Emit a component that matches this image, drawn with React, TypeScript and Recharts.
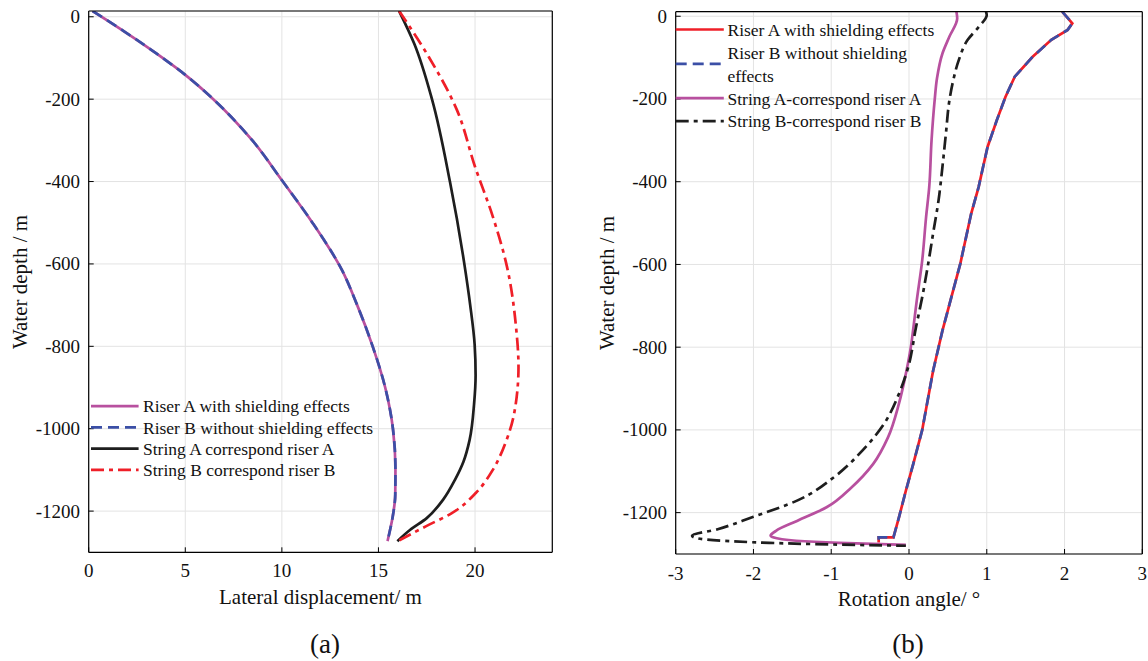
import React from "react";
import { LineChart, Line, XAxis, YAxis, CartesianGrid } from "recharts";

const FONT = '"Liberation Serif", "Times New Roman", Times, serif';

// ---------------- (a) Lateral displacement ----------------
const dispDepthTicks = [0, -200, -400, -600, -800, -1000, -1200];
const dispTicks = [0, 5, 10, 15, 20];

const riserDispDepth = [14, -36, -89, -141, -200, -299, -400, -501, -614, -700, -800, -900, -1000, -1100, -1160, -1213, -1246, -1273];
const riserADisp = [0.2, 1.85, 3.5, 5.0, 6.45, 8.45, 10.05, 11.6, 13.1, 13.9, 14.7, 15.35, 15.75, 15.88, 15.87, 15.74, 15.6, 15.47];
const riserBDisp = [0.2, 1.85, 3.5, 5.0, 6.45, 8.45, 10.05, 11.6, 13.1, 13.9, 14.7, 15.35, 15.75, 15.88, 15.87, 15.74, 15.6, 15.47];

const stringADispDepth = [14, -65, -200, -400, -598, -700, -796, -870, -940, -1027, -1080, -1124, -1172, -1217, -1246, -1273];
const stringADisp = [16.07, 16.85, 17.77, 18.7, 19.44, 19.75, 19.98, 20.03, 19.95, 19.72, 19.4, 18.96, 18.35, 17.5, 16.63, 15.98];

const stringBDispDepth = [14, -97, -226, -364, -485, -606, -752, -850, -962, -1035, -1100, -1156, -1205, -1237, -1273];
const stringBDisp = [16.07, 17.6, 19.06, 20.0, 20.92, 21.65, 22.12, 22.25, 22.03, 21.57, 20.92, 20.04, 18.8, 17.45, 16.0];

// ---------------- (b) Rotation angle ----------------
const rotDepthTicks = [0, -200, -400, -600, -800, -1000, -1200];
const rotTicks = [-3, -2, -1, 0, 1, 2, 3];

const riserRotDepth = [11, -17, -33, -57, -98, -146, -195, -251, -316, -413, -477, -598, -760, -857, -1000, -1082, -1147, -1212, -1260, -1260, -1272];
const riserARot = [1.97, 2.1, 2.04, 1.83, 1.59, 1.36, 1.24, 1.13, 1.01, 0.895, 0.8, 0.66, 0.43, 0.31, 0.17, 0.055, -0.04, -0.13, -0.2, -0.39, -0.39];
const riserBRot = [1.97, 2.1, 2.04, 1.83, 1.59, 1.36, 1.24, 1.13, 1.01, 0.895, 0.8, 0.66, 0.43, 0.31, 0.17, 0.055, -0.04, -0.13, -0.2, -0.39, -0.39];

const stringARotDepth = [11, -5, -49, -90, -150, -203, -300, -413, -485, -590, -687, -755, -792, -864, -937, -1018, -1082, -1139, -1187, -1220, -1244, -1256, -1262, -1268, -1273, -1278];
const stringARot = [0.61, 0.62, 0.52, 0.43, 0.36, 0.33, 0.29, 0.26, 0.22, 0.17, 0.1, 0.055, 0.03, -0.04, -0.13, -0.27, -0.46, -0.74, -1.06, -1.44, -1.71, -1.78, -1.7, -1.45, -0.9, -0.04];

const stringBRotDepth = [11, 3, -25, -57, -106, -154, -203, -283, -364, -445, -525, -606, -679, -752, -848, -913, -985, -1050, -1115, -1171, -1210, -1240, -1256, -1262, -1268, -1273, -1277, -1280];
const stringBRot = [0.99, 1.0, 0.9, 0.755, 0.64, 0.57, 0.52, 0.475, 0.43, 0.38, 0.31, 0.24, 0.17, 0.09, -0.01, -0.13, -0.32, -0.6, -0.97, -1.44, -2.0, -2.46, -2.79, -2.72, -2.4, -1.8, -1.0, -0.04];

const zip = (depth: number[], vals: number[]) => depth.map((d, i) => ({ d, v: vals[i] }));

const PURPLE = "#b8509f";
const BLUE = "#3b4fa6";
const BLACK = "#1e1e1e";
const RED = "#ef1f28";
const DASH = "11 6";
const DASHDOT = "13 5 4 5";

type Series = { name: string; data: { d: number; v: number }[]; color: string; dash?: string; type: "monotone" | "linear" };

const leftSeries: Series[] = [
  { name: "Riser A with shielding effects", data: zip(riserDispDepth, riserADisp), color: PURPLE, type: "monotone" },
  { name: "Riser B without shielding effects", data: zip(riserDispDepth, riserBDisp), color: BLUE, dash: DASH, type: "monotone" },
  { name: "String A correspond riser A", data: zip(stringADispDepth, stringADisp), color: BLACK, type: "monotone" },
  { name: "String B correspond riser B", data: zip(stringBDispDepth, stringBDisp), color: RED, dash: DASHDOT, type: "monotone" },
];

const rightSeries: Series[] = [
  { name: "Riser A with shielding effects", data: zip(riserRotDepth, riserARot), color: RED, type: "linear" },
  { name: "Riser B without shielding\neffects", data: zip(riserRotDepth, riserBRot), color: BLUE, dash: DASH, type: "linear" },
  { name: "String A-correspond riser A", data: zip(stringARotDepth, stringARot), color: PURPLE, type: "monotone" },
  { name: "String B-correspond riser B", data: zip(stringBRotDepth, stringBRot), color: BLACK, dash: DASHDOT, type: "monotone" },
];

const axisLineStyle = { stroke: "#000", strokeWidth: 1.2 };
const tickLineStyle = { stroke: "#000", strokeWidth: 1 };

const XTick = (props: any) => (
  <text x={props.x} y={props.y} dy="0.71em" textAnchor="middle" fontFamily={FONT} fontSize={19} fill="#111">
    {props.payload.value}
  </text>
);
const YTick = (props: any) => (
  <text x={props.x} y={props.y} dy="0.34em" textAnchor="end" fontFamily={FONT} fontSize={19} fill="#111">
    {props.payload.value}
  </text>
);

type PanelProps = {
  width: number;
  height: number;
  margin: { top: number; right: number; bottom: number; left: number };
  yWidth: number;
  xDomain: [number, number];
  xTicks: number[];
  yDomain: [number, number];
  yTicks: number[];
  xTickMargin: number;
  series: Series[];
};

function Panel(p: PanelProps) {
  return (
    <LineChart width={p.width} height={p.height} layout="vertical" margin={p.margin} style={{ fontFamily: FONT }}>
      <CartesianGrid stroke="#e3e3e3" strokeWidth={1} />
      <XAxis
        type="number"
        domain={p.xDomain}
        ticks={p.xTicks}
        allowDataOverflow
        interval={0}
        height={40}
        tickSize={-5}
        tickMargin={p.xTickMargin}
        tick={XTick}
        axisLine={axisLineStyle}
        tickLine={tickLineStyle}
      />
      <XAxis
        xAxisId="top"
        orientation="top"
        mirror
        type="number"
        domain={p.xDomain}
        ticks={p.xTicks}
        allowDataOverflow
        interval={0}
        height={1}
        tick={false}
        tickSize={5}
        axisLine={axisLineStyle}
        tickLine={tickLineStyle}
      />
      <YAxis
        type="number"
        dataKey="d"
        reversed
        domain={p.yDomain}
        ticks={p.yTicks}
        allowDataOverflow
        interval={0}
        width={p.yWidth}
        tickSize={-5}
        tickMargin={13.7}
        tick={YTick}
        axisLine={axisLineStyle}
        tickLine={tickLineStyle}
      />
      <YAxis
        yAxisId="right"
        orientation="right"
        mirror
        reversed
        type="number"
        domain={p.yDomain}
        ticks={p.yTicks}
        allowDataOverflow
        interval={0}
        width={1}
        tick={false}
        tickSize={5}
        axisLine={axisLineStyle}
        tickLine={tickLineStyle}
      />
      {p.series.map((s) => (
        <Line
          key={s.name}
          data={s.data}
          dataKey="v"
          name={s.name}
          type={s.type}
          stroke={s.color}
          strokeWidth={2.7}
          strokeDasharray={s.dash}
          dot={false}
          activeDot={false}
          isAnimationActive={false}
        />
      ))}
    </LineChart>
  );
}

function LegendOverlay({ series, x1, x2, textX, firstCenter, lineHeight, fontSize }: {
  series: Series[]; x1: number; x2: number; textX: number; firstCenter: number; lineHeight: number; fontSize: number;
}) {
  let row = 0;
  const items = series.map((s) => {
    const lines = s.name.split("\n");
    const top = firstCenter - lineHeight / 2 + row * lineHeight;
    const center = top + (lines.length * lineHeight) / 2;
    row += lines.length;
    return { s, lines, top, center };
  });
  return (
    <>
      <svg width={1148} height={661} style={{ position: "absolute", left: 0, top: 0, pointerEvents: "none" }}>
        {items.map(({ s, center }) => (
          <line key={s.name} x1={x1} x2={x2} y1={center - 0.8} y2={center - 0.8} stroke={s.color} strokeWidth={2.7} strokeDasharray={s.dash} />
        ))}
      </svg>
      {items.map(({ s, lines, top }) => (
        <div
          key={s.name}
          style={{
            position: "absolute",
            left: textX,
            top,
            fontSize,
            lineHeight: `${lineHeight}px`,
            whiteSpace: "pre",
            color: "#111",
            fontFamily: FONT,
          }}
        >
          {lines.join("\n")}
        </div>
      ))}
    </>
  );
}

function TextAt({ x, y, size, children, rotate }: { x: number; y: number; size: number; children: React.ReactNode; rotate?: boolean }) {
  return (
    <div
      style={{
        position: "absolute",
        left: x,
        top: y,
        transform: `translate(-50%, -50%)${rotate ? " rotate(-90deg)" : ""}`,
        fontSize: size,
        lineHeight: `${Math.round(size * 1.2)}px`,
        whiteSpace: "nowrap",
        fontFamily: FONT,
        color: "#111",
      }}
    >
      {children}
    </div>
  );
}

export default function App() {
  return (
    <div style={{ position: "absolute", left: 0, top: 0, width: 1148, height: 661, background: "#fff", fontFamily: FONT, overflow: "hidden" }}>
      <div style={{ position: "absolute", left: 0, top: 0 }}>
        <Panel
          width={570}
          height={661}
          margin={{ top: 11, right: 17.7, bottom: 68.7, left: 0 }}
          yWidth={88.7}
          xDomain={[0, 24]}
          xTicks={dispTicks}
          yDomain={[-1300, 14]}
          yTicks={dispDepthTicks}
          xTickMargin={16.5}
          series={leftSeries}
        />
      </div>
      <div style={{ position: "absolute", left: 580, top: 0 }}>
        <Panel
          width={568}
          height={661}
          margin={{ top: 11.7, right: 5.7, bottom: 67, left: 0 }}
          yWidth={95.7}
          xDomain={[-3, 3]}
          xTicks={rotTicks}
          yDomain={[-1300, 11]}
          yTicks={rotDepthTicks}
          xTickMargin={17.5}
          series={rightSeries}
        />
      </div>

      <LegendOverlay series={leftSeries} x1={91} x2={138.6} textX={143} firstCenter={407} lineHeight={21.2} fontSize={17.5} />
      <LegendOverlay series={rightSeries} x1={675.7} x2={723.8} textX={727.5} firstCenter={30.3} lineHeight={22.9} fontSize={17.5} />

      <TextAt x={19.6} y={281.5} size={21} rotate>Water depth / m</TextAt>
      <TextAt x={607} y={283} size={21} rotate>Water depth / m</TextAt>
      <TextAt x={320.5} y={597} size={21}>Lateral displacement/ m</TextAt>
      <TextAt x={909} y={599.3} size={21}>Rotation angle/ °</TextAt>
      <TextAt x={325} y={644} size={27}>(a)</TextAt>
      <TextAt x={908} y={644} size={27}>(b)</TextAt>
    </div>
  );
}
